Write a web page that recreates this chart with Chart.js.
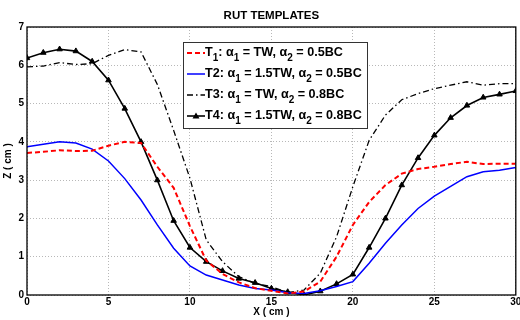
<!DOCTYPE html>
<html><head><meta charset="utf-8">
<script src="https://cdn.jsdelivr.net/npm/chart.js@4"></script>
<style>html,body{margin:0;padding:0;background:#fff}#wrap{width:520px;height:320px}</style>
</head><body><div id="wrap"><canvas id="c" width="520" height="320"></canvas></div>
<script>
const xValues = [0,1,2,3,4,5,6,7,8,9,10,11,12,13,14,15,16,17,18,19,20,21,22,23,24,25,26,27,28,29,30];
const t1 = [3.71,3.74,3.78,3.76,3.77,3.90,4.00,3.97,3.35,2.80,1.80,0.90,0.55,0.33,0.18,0.11,0.04,0.09,0.35,1.00,1.83,2.43,2.87,3.17,3.29,3.35,3.42,3.48,3.42,3.43,3.43];
const t2 = [3.87,3.94,4.00,3.97,3.81,3.50,3.04,2.48,1.83,1.22,0.76,0.52,0.39,0.26,0.17,0.13,0.06,0.04,0.11,0.22,0.35,0.83,1.35,1.83,2.26,2.58,2.84,3.09,3.22,3.26,3.33];
const t3 = [5.96,5.98,6.07,6.02,6.04,6.26,6.41,6.35,5.50,4.30,3.05,1.44,0.87,0.48,0.30,0.22,0.06,0.13,0.57,1.52,2.83,4.04,4.70,5.10,5.26,5.39,5.48,5.57,5.48,5.52,5.52];
const t4 = [6.19,6.33,6.42,6.37,6.10,5.61,4.87,4.00,3.00,1.94,1.24,0.87,0.63,0.43,0.32,0.17,0.08,0.00,0.10,0.29,0.54,1.24,2.00,2.87,3.58,4.17,4.63,4.95,5.16,5.24,5.33];
const seriesLabels = ["T_1: α_1 = TW, α_2 = 0.5BC", "T2: α_1 = 1.5TW, α_2 = 0.5BC", "T3: α_1 = TW, α_2 = 0.8BC", "T4: α_1 = 1.5TW, α_2 = 0.8BC"];
const xTicks = [0,5,10,15,20,25,30];
const yTicks = [0,1,2,3,4,5,6,7];
const chartTitle = "RUT TEMPLATES";
const xTitle = "X ( cm )";
const yTitle = "Z ( cm )";

const FONT = "'Liberation Sans', Arial, sans-serif";
const pts = arr => xValues.map((x,i)=>({x:x,y:arr[i]}));

const styles = [
  {borderColor:'#ff0000', borderWidth:2, borderDash:[5,3], pointRadius:0},
  {borderColor:'#0000ff', borderWidth:1.5, borderDash:[], pointRadius:0},
  {borderColor:'#000000', borderWidth:1.3, borderDash:[6,3,1.5,3], pointRadius:0},
  {borderColor:'#000000', borderWidth:1.6, borderDash:[], pointRadius:3.2, pointStyle:'triangle', pointBackgroundColor:'#000', pointBorderColor:'#000', pointBorderWidth:1}
];
const seriesData = [t1,t2,t3,t4];

const datasets = seriesData.map((arr,i)=>Object.assign({
  label: seriesLabels[i].replace(/_(\d)/g,(m,d)=>String.fromCharCode(0x2080+ +d)),
  data: pts(arr), tension:0, fill:false, pointHoverRadius:0
}, styles[i]));

function drawRich(ctx, text, x, y, size) {
  const parts = text.split(/(_\d)/);
  let cx = x;
  parts.forEach(p=>{
    if (!p) return;
    if (p[0]==='_') {
      ctx.font = 'bold ' + Math.round(size*0.82) + 'px ' + FONT;
      ctx.fillText(p.slice(1), cx, y + size*0.4);
      cx += ctx.measureText(p.slice(1)).width;
    } else {
      ctx.font = 'bold ' + size + 'px ' + FONT;
      ctx.fillText(p, cx, y);
      cx += ctx.measureText(p).width;
    }
  });
  return cx;
}

const framePlugin = {
  id:'frame',
  afterDatasetsDraw(chart){
    const {ctx, chartArea:a} = chart;
    ctx.save();
    ctx.strokeStyle='#000'; ctx.lineWidth=1.3; ctx.setLineDash([]);
    ctx.strokeRect(a.left, a.top, a.right-a.left, a.bottom-a.top);
    ctx.restore();
  }
};

const legendPlugin = {
  id:'boxLegend',
  afterDraw(chart){
    const ctx = chart.ctx;
    const bx=183, by=42, bw=184, bh=86;
    ctx.save();
    ctx.fillStyle='#fff'; ctx.fillRect(bx,by,bw,bh);
    ctx.strokeStyle='#333'; ctx.lineWidth=1; ctx.setLineDash([]);
    ctx.strokeRect(bx+0.5,by+0.5,bw,bh);
    ctx.textBaseline='middle'; ctx.textAlign='left';
    chart.data.datasets.forEach((ds,i)=>{
      const yy = by + 11 + i*21;
      ctx.strokeStyle=ds.borderColor; ctx.lineWidth=ds.borderWidth;
      ctx.setLineDash(ds.borderDash||[]);
      ctx.beginPath(); ctx.moveTo(bx+4,yy); ctx.lineTo(bx+22,yy); ctx.stroke();
      ctx.setLineDash([]);
      if (ds.pointRadius>0) {
        ctx.fillStyle='#000';
        ctx.beginPath(); ctx.moveTo(bx+13,yy-3.5); ctx.lineTo(bx+16.5,yy+2.5); ctx.lineTo(bx+9.5,yy+2.5); ctx.closePath(); ctx.fill();
      }
      ctx.fillStyle='#000';
      drawRich(ctx, seriesLabels[i], bx+22, yy, 12.6);
    });
    ctx.restore();
  }
};

new Chart(document.getElementById('c'), {
  type:'line',
  data:{datasets:datasets},
  plugins:[framePlugin, legendPlugin],
  options:{
    responsive:false, animation:false, devicePixelRatio:1,
    layout:{padding:{left:0,right:3,top:0,bottom:0}},
    plugins:{
      legend:{display:false}, tooltip:{enabled:false},
      title:{display:true, text:chartTitle, fullSize:false, color:'#000', font:{family:FONT, size:11.5, weight:'bold'}, padding:{top:9,bottom:4.2}}
    },
    scales:{
      x:{type:'linear', min:0, max:30,
        afterBuildTicks(s){ s.ticks = xTicks.map(v=>({value:v})); },
        afterFit(s){ s.height = 25; s.paddingRight = 0; s.paddingLeft = 0; },
        ticks:{color:'#000', font:{family:FONT,size:10,weight:'bold'}, padding:1, maxRotation:0},
        grid:{color:'#b8b8b8', lineWidth:1, drawTicks:false},
        border:{display:false, dash:[1,2]},
        title:{display:true, text:xTitle, color:'#000', font:{family:FONT,size:10,weight:'bold'}, padding:{top:0,bottom:2}}
      },
      y:{type:'linear', min:0, max:7,
        afterBuildTicks(s){ s.ticks = yTicks.map(v=>({value:v})); },
        afterFit(s){ s.width = 27; s.paddingTop = 0; s.paddingBottom = 0; },
        ticks:{color:'#000', font:{family:FONT,size:10,weight:'bold'}, padding:3},
        grid:{color:'#b8b8b8', lineWidth:1, drawTicks:false},
        border:{display:false, dash:[1,2]},
        title:{display:true, text:yTitle, color:'#000', font:{family:FONT,size:10,weight:'bold'}, padding:{top:2,bottom:0}}
      }
    }
  }
});
</script></body></html>
